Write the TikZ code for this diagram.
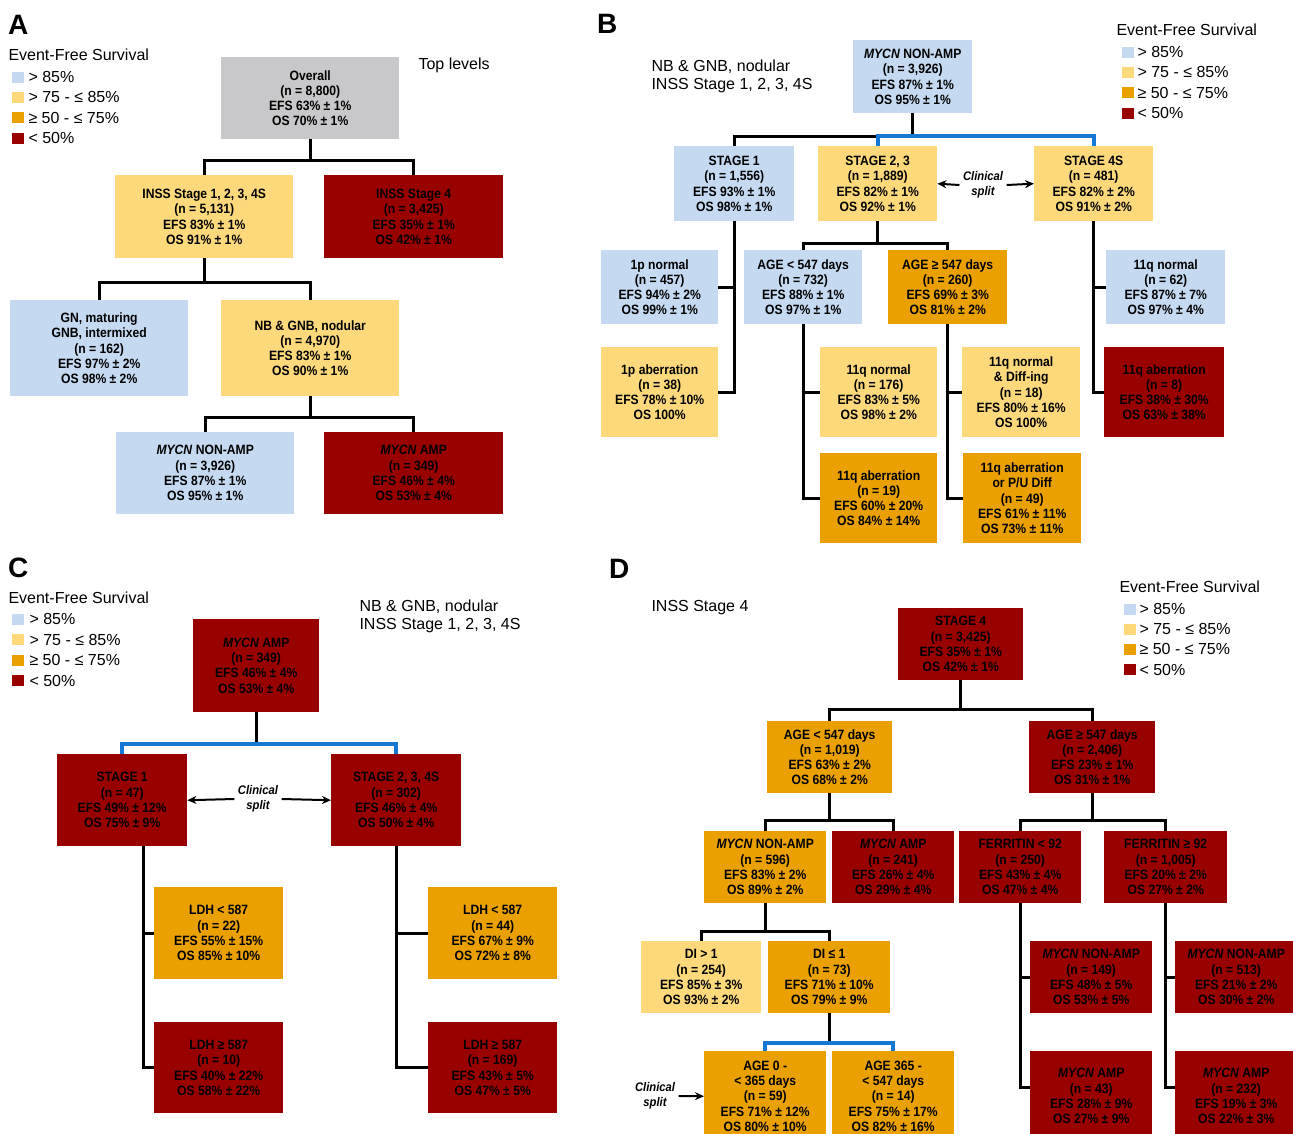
\documentclass[tikz,border=0pt]{standalone}
\usepackage{fontspec}
\setmainfont{Liberation Sans}
\newfontfamily\boxfont{Liberation Sans}[FakeStretch=0.9]
\usetikzlibrary{arrows.meta}

\definecolor{efsA}{HTML}{C5D9F1}
\definecolor{efsB}{HTML}{FDD97C}
\definecolor{efsC}{HTML}{EAA000}
\definecolor{efsD}{HTML}{990000}
\definecolor{efsO}{HTML}{C8C8CA}
\definecolor{splitblue}{HTML}{1478D4}

\begin{document}
\begin{tikzpicture}[x=1pt,y=-1pt,
  box/.style={anchor=north west,inner sep=0pt,align=center,text=black,
    font=\boxfont\bfseries\fontsize{13.5}{15.3}\selectfont},
  wh/.style 2 args={minimum width=#1pt,minimum height=#2pt},
  link/.style={draw=black,line width=2.8pt},
  split/.style={draw=splitblue,line width=3.8pt},
  note/.style={anchor=west,align=left,font=\fontsize{16}{18}\selectfont},
  panel/.style={anchor=west,inner sep=0pt,font=\bfseries\fontsize{28}{30}\selectfont},
  legsq/.style={anchor=west,inner sep=0pt,minimum width=12pt,minimum height=11pt},
  clin/.style={align=center,font=\boxfont\bfseries\itshape\fontsize{12.5}{15}\selectfont},
  arr/.style={-{Stealth[length=9pt,width=8pt]},line width=2pt}]
  \useasboundingbox (0,0) rectangle (1293,1133);

  % Panel A
  \node[panel] (aLet) at (8,25) {A};
  \node[note] (aLeg) at (5,55) {Event-Free Survival};
  \foreach \col/\lbl [count=\i from 0] in {efsA/{> 85\%},efsB/{> 75 - ≤ 85\%},efsC/{≥ 50 - ≤ 75\%},efsD/{< 50\%}}{
    \node[legsq,fill=\col] (aSq\i) at (12,77+20.4*\i) {};
    \node[note] (aKey\i) at (25,77+20.4*\i) {\lbl};
  }
  \node[note] (aTitle) at (415,65) {Top levels};
  \node[box,wh={178}{82},fill=efsO] (aOv) at (221,57) {Overall\\(n = 8,800)\\EFS 63\% ± 1\%\\OS 70\% ± 1\%};
  \node[box,wh={178}{83},fill=efsB] (aS123) at (115,175) {INSS Stage 1, 2, 3, 4S\\(n = 5,131)\\EFS 83\% ± 1\%\\OS 91\% ± 1\%};
  \node[box,wh={179}{83},fill=efsD] (aS4) at (324,175) {INSS Stage 4\\(n = 3,425)\\EFS 35\% ± 1\%\\OS 42\% ± 1\%};
  \node[box,wh={178}{96},fill=efsA] (aGN) at (10,300) {GN, maturing\\GNB, intermixed\\(n = 162)\\EFS 97\% ± 2\%\\OS 98\% ± 2\%};
  \node[box,wh={178}{96},fill=efsB] (aNB) at (221,300) {NB \& GNB, nodular\\(n = 4,970)\\EFS 83\% ± 1\%\\OS 90\% ± 1\%};
  \node[box,wh={178}{82},fill=efsA] (aNon) at (116,432) {\textit{MYCN} NON-AMP\\(n = 3,926)\\EFS 87\% ± 1\%\\OS 95\% ± 1\%};
  \node[box,wh={179}{82},fill=efsD] (aAmp) at (324,432) {\textit{MYCN} AMP\\(n = 349)\\EFS 46\% ± 4\%\\OS 53\% ± 4\%};
  \draw[link] (aOv.south) -- ++(0,21) -| (aS123.north);
  \draw[link] (aOv.south) -- ++(0,21) -| (aS4.north);
  \draw[link] (aS123.south) -- ++(0,24) -| (aGN.north);
  \draw[link] (aS123.south) -- ++(0,24) -| (aNB.north);
  \draw[link] (aNB.south) -- ++(0,21) -| (aNon.north);
  \draw[link] (aNB.south) -- ++(0,21) -| (aAmp.north);

  % Panel B
  \node[panel] (bLet) at (597,24) {B};
  \node[note] (bTitle) at (648,76) {NB \& GNB, nodular\\INSS Stage 1, 2, 3, 4S};
  \node[note] (bLeg) at (1113,30) {Event-Free Survival};
  \foreach \col/\lbl [count=\i from 0] in {efsA/{> 85\%},efsB/{> 75 - ≤ 85\%},efsC/{≥ 50 - ≤ 75\%},efsD/{< 50\%}}{
    \node[legsq,fill=\col] (bSq\i) at (1122,52+20.4*\i) {};
    \node[note] (bKey\i) at (1134,52+20.4*\i) {\lbl};
  }
  \node[box,wh={119}{73},fill=efsA] (bTop) at (853,40) {\textit{MYCN} NON-AMP\\(n = 3,926)\\EFS 87\% ± 1\%\\OS 95\% ± 1\%};
  \node[box,wh={120}{75},fill=efsA] (bS1) at (674,146) {STAGE 1\\(n = 1,556)\\EFS 93\% ± 1\%\\OS 98\% ± 1\%};
  \node[box,wh={119}{75},fill=efsB] (bS23) at (818,146) {STAGE 2, 3\\(n = 1,889)\\EFS 82\% ± 1\%\\OS 92\% ± 1\%};
  \node[box,wh={119}{75},fill=efsB] (bS4S) at (1034,146) {STAGE 4S\\(n = 481)\\EFS 82\% ± 2\%\\OS 91\% ± 2\%};
  \node[clin] (bClin) at (983,185) {Clinical\\split};
  \node[box,wh={117}{74},fill=efsA] (b1pn) at (601,250) {1p normal\\(n = 457)\\EFS 94\% ± 2\%\\OS 99\% ± 1\%};
  \node[box,wh={118}{74},fill=efsA] (bAgeL) at (744,250) {AGE < 547 days\\(n = 732)\\EFS 88\% ± 1\%\\OS 97\% ± 1\%};
  \node[box,wh={119}{74},fill=efsC] (bAgeH) at (888,250) {AGE ≥ 547 days\\(n = 260)\\EFS 69\% ± 3\%\\OS 81\% ± 2\%};
  \node[box,wh={119}{74},fill=efsA] (b11n) at (1106,250) {11q normal\\(n = 62)\\EFS 87\% ± 7\%\\OS 97\% ± 4\%};
  \node[box,wh={117}{90},fill=efsB] (b1pa) at (601,347) {1p aberration\\(n = 38)\\EFS 78\% ± 10\%\\OS 100\%};
  \node[box,wh={117}{90},fill=efsB] (bL11n) at (820,347) {11q normal\\(n = 176)\\EFS 83\% ± 5\%\\OS 98\% ± 2\%};
  \node[box,wh={118}{90},fill=efsB] (bH11n) at (962,347) {11q normal\\\& Diff-ing\\(n = 18)\\EFS 80\% ± 16\%\\OS 100\%};
  \node[box,wh={120}{90},fill=efsD] (b11a) at (1104,347) {11q aberration\\(n = 8)\\EFS 38\% ± 30\%\\OS 63\% ± 38\%};
  \node[box,wh={117}{90},fill=efsC] (bL11a) at (820,453) {11q aberration\\(n = 19)\\EFS 60\% ± 20\%\\OS 84\% ± 14\%};
  \node[box,wh={118}{90},fill=efsC] (bH11a) at (963,453) {11q aberration\\or P/U Diff\\(n = 49)\\EFS 61\% ± 11\%\\OS 73\% ± 11\%};
  \draw[link] (bTop.south) -- ++(0,23) -| (bS1.north);
  \draw[split] (bS23.north) -- ++(0,-10) -| (bS4S.north);
  \draw[arr] (bClin.west) -- (bS23.east);
  \draw[arr] (bClin.east) -- (bS4S.west);
  \draw[link] (bS1.south) |- (b1pn.east);
  \draw[link] (bS1.south) |- (b1pa.east);
  \draw[link] (bS23.south) -- ++(0,22) -| (bAgeL.north);
  \draw[link] (bS23.south) -- ++(0,22) -| (bAgeH.north);
  \draw[link] (bS4S.south) |- (b11n.west);
  \draw[link] (bS4S.south) |- (b11a.west);
  \draw[link] (bAgeL.south) |- (bL11n.west);
  \draw[link] (bAgeL.south) |- (bL11a.west);
  \draw[link] (bAgeH.south) |- (bH11n.west);
  \draw[link] (bAgeH.south) |- (bH11a.west);

  % Panel C
  \node[panel] (cLet) at (8,568) {C};
  \node[note] (cLeg) at (5,598) {Event-Free Survival};
  \foreach \col/\lbl [count=\i from 0] in {efsA/{> 85\%},efsB/{> 75 - ≤ 85\%},efsC/{≥ 50 - ≤ 75\%},efsD/{< 50\%}}{
    \node[legsq,fill=\col] (cSq\i) at (12,619+20.6*\i) {};
    \node[note] (cKey\i) at (26,619+20.6*\i) {\lbl};
  }
  \node[note] (cTitle) at (356,616) {NB \& GNB, nodular\\INSS Stage 1, 2, 3, 4S};
  \node[box,wh={126}{93},fill=efsD] (cTop) at (193,619) {\textit{MYCN} AMP\\(n = 349)\\EFS 46\% ± 4\%\\OS 53\% ± 4\%};
  \node[box,wh={130}{92},fill=efsD] (cS1) at (57,754) {STAGE 1\\(n = 47)\\EFS 49\% ± 12\%\\OS 75\% ± 9\%};
  \node[box,wh={130}{92},fill=efsD] (cS234) at (331,754) {STAGE 2, 3, 4S\\(n = 302)\\EFS 46\% ± 4\%\\OS 50\% ± 4\%};
  \node[clin] (cClin) at (258,799) {Clinical\\split};
  \node[box,wh={129}{92},fill=efsC] (cL22) at (154,887) {LDH < 587\\(n = 22)\\EFS 55\% ± 15\%\\OS 85\% ± 10\%};
  \node[box,wh={129}{91},fill=efsD] (cH10) at (154,1022) {LDH ≥ 587\\(n = 10)\\EFS 40\% ± 22\%\\OS 58\% ± 22\%};
  \node[box,wh={129}{92},fill=efsC] (cL44) at (428,887) {LDH < 587\\(n = 44)\\EFS 67\% ± 9\%\\OS 72\% ± 8\%};
  \node[box,wh={129}{91},fill=efsD] (cH169) at (428,1022) {LDH ≥ 587\\(n = 169)\\EFS 43\% ± 5\%\\OS 47\% ± 5\%};
  \draw[link] (cTop.south) -- ++(0,32);
  \draw[split] (cS1.north) -- ++(0,-10) -| (cS234.north);
  \draw[arr] (cClin.west) -- (cS1.east);
  \draw[arr] (cClin.east) -- (cS234.west);
  \draw[link] ([xshift=21pt]cS1.south) |- (cL22.west);
  \draw[link] ([xshift=21pt]cS1.south) |- (cH10.west);
  \draw[link] (cS234.south) |- (cL44.west);
  \draw[link] (cS234.south) |- (cH169.west);

  % Panel D
  \node[panel] (dLet) at (609,569) {D};
  \node[note] (dTitle) at (648,608) {INSS Stage 4};
  \node[note] (dLeg) at (1116,587) {Event-Free Survival};
  \foreach \col/\lbl [count=\i from 0] in {efsA/{> 85\%},efsB/{> 75 - ≤ 85\%},efsC/{≥ 50 - ≤ 75\%},efsD/{< 50\%}}{
    \node[legsq,fill=\col] (dSq\i) at (1124,609+20.2*\i) {};
    \node[note] (dKey\i) at (1136,609+20.2*\i) {\lbl};
  }
  \node[box,wh={125}{72},fill=efsD] (dS4) at (898,608) {STAGE 4\\(n = 3,425)\\EFS 35\% ± 1\%\\OS 42\% ± 1\%};
  \node[box,wh={125}{72},fill=efsC] (dAgeL) at (767,721) {AGE < 547 days\\(n = 1,019)\\EFS 63\% ± 2\%\\OS 68\% ± 2\%};
  \node[box,wh={126}{72},fill=efsD] (dAgeH) at (1029,721) {AGE ≥ 547 days\\(n = 2,406)\\EFS 23\% ± 1\%\\OS 31\% ± 1\%};
  \node[box,wh={122}{72},fill=efsC] (dNon) at (704,831) {\textit{MYCN} NON-AMP\\(n = 596)\\EFS 83\% ± 2\%\\OS 89\% ± 2\%};
  \node[box,wh={122}{72},fill=efsD] (dAmp) at (832,831) {\textit{MYCN} AMP\\(n = 241)\\EFS 26\% ± 4\%\\OS 29\% ± 4\%};
  \node[box,wh={122}{72},fill=efsD] (dFerL) at (959,831) {FERRITIN < 92\\(n = 250)\\EFS 43\% ± 4\%\\OS 47\% ± 4\%};
  \node[box,wh={123}{72},fill=efsD] (dFerH) at (1104,831) {FERRITIN ≥ 92\\(n = 1,005)\\EFS 20\% ± 2\%\\OS 27\% ± 2\%};
  \node[box,wh={120}{72},fill=efsB] (dDIh) at (641,941) {DI > 1\\(n = 254)\\EFS 85\% ± 3\%\\OS 93\% ± 2\%};
  \node[box,wh={122}{72},fill=efsC] (dDIl) at (768,941) {DI ≤ 1\\(n = 73)\\EFS 71\% ± 10\%\\OS 79\% ± 9\%};
  \node[box,wh={122}{90},fill=efsC] (dAge0) at (704,1051) {AGE 0 -\\< 365 days\\(n = 59)\\EFS 71\% ± 12\%\\OS 80\% ± 10\%};
  \node[box,wh={122}{90},fill=efsC] (dAge365) at (832,1051) {AGE 365 -\\< 547 days\\(n = 14)\\EFS 75\% ± 17\%\\OS 82\% ± 16\%};
  \node[clin] (dClin) at (655,1096) {Clinical\\split};
  \node[box,wh={122}{72},fill=efsD] (dN149) at (1030,941) {\textit{MYCN} NON-AMP\\(n = 149)\\EFS 48\% ± 5\%\\OS 53\% ± 5\%};
  \node[box,wh={122}{72},fill=efsD] (dN513) at (1175,941) {\textit{MYCN} NON-AMP\\(n = 513)\\EFS 21\% ± 2\%\\OS 30\% ± 2\%};
  \node[box,wh={122}{90},fill=efsD] (dA43) at (1030,1051) {\textit{MYCN} AMP\\(n = 43)\\EFS 28\% ± 9\%\\OS 27\% ± 9\%};
  \node[box,wh={122}{90},fill=efsD] (dA232) at (1175,1051) {\textit{MYCN} AMP\\(n = 232)\\EFS 19\% ± 3\%\\OS 22\% ± 3\%};
  \draw[link] (dS4.south) -- ++(0,29) -| (dAgeL.north);
  \draw[link] (dS4.south) -- ++(0,29) -| (dAgeH.north);
  \draw[link] (dAgeL.south) -- ++(0,27) -| (dNon.north);
  \draw[link] (dAgeL.south) -- ++(0,27) -| (dAmp.north);
  \draw[link] (dAgeH.south) -- ++(0,27) -| (dFerL.north);
  \draw[link] (dAgeH.south) -- ++(0,27) -| (dFerH.north);
  \draw[link] (dNon.south) -- ++(0,28) -| (dDIh.north);
  \draw[link] (dNon.south) -- ++(0,28) -| (dDIl.north);
  \draw[link] (dDIl.south) -- ++(0,30);
  \draw[split] (dAge0.north) -- ++(0,-8) -| (dAge365.north);
  \draw[arr] (dClin.east) -- (dAge0.west);
  \draw[link] (dFerL.south) |- (dN149.west);
  \draw[link] (dFerL.south) |- ([yshift=9pt]dA43.west);
  \draw[link] (dFerH.south) |- (dN513.west);
  \draw[link] (dFerH.south) |- ([yshift=9pt]dA232.west);
\end{tikzpicture}
\end{document}
